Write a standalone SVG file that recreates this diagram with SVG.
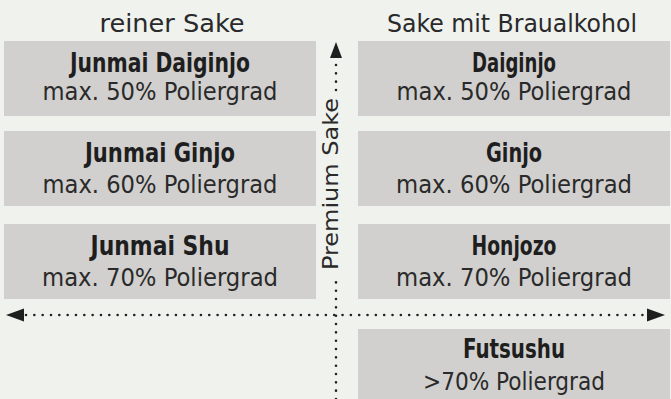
<svg xmlns="http://www.w3.org/2000/svg" width="671" height="399" viewBox="0 0 671 399">
<defs>
<style>
text{font-family:"Liberation Sans Narrow","DejaVu Sans Condensed","Liberation Sans",sans-serif;text-anchor:middle;fill:#2a2a2a}
.hd{font-size:25px}
.t{font-size:27px;font-weight:bold;fill:#1e1e1e}
.s{font-size:24px}
.box{fill:#d1d0ce}
.dot{fill:none;stroke:#222;stroke-width:2.6;stroke-linecap:round;stroke-dasharray:0 8.33}
.ah{fill:#1e1e1e}
</style>
</defs>
<rect width="671" height="399" fill="#f0f2ee"/>
<text class="hd" x="172" y="32" textLength="145" lengthAdjust="spacingAndGlyphs">reiner Sake</text>
<text class="hd" x="512" y="32" textLength="250" lengthAdjust="spacingAndGlyphs">Sake mit Braualkohol</text>
<g id="connectors">
<line class="dot" x1="26" y1="315" x2="646" y2="315"/>
<line class="dot" x1="336" y1="399" x2="336" y2="276"/>
<line class="dot" x1="336" y1="90" x2="336" y2="60"/>
<path class="ah" d="M6,315 L24,308.5 L24,321.5 Z"/>
<path class="ah" d="M665,315 L647,308.5 L647,321.5 Z"/>
<path class="ah" d="M336,42 L342,58 L330,58 Z"/>
<text class="hd" transform="translate(338,184) rotate(-90)" x="0" y="0" textLength="172" lengthAdjust="spacingAndGlyphs" style="font-size:22px">Premium Sake</text>
</g>
<g id="junmai-daiginjo">
<rect class="box" x="4" y="41" width="312" height="75"/>
<text class="t" x="160" y="72" textLength="180" lengthAdjust="spacingAndGlyphs">Junmai Daiginjo</text>
<text class="s" x="160" y="100" textLength="235" lengthAdjust="spacingAndGlyphs">max. 50% Poliergrad</text>
</g>
<g id="junmai-ginjo">
<rect class="box" x="4" y="131" width="312" height="75"/>
<text class="t" x="160" y="162" textLength="150" lengthAdjust="spacingAndGlyphs">Junmai Ginjo</text>
<text class="s" x="160" y="193" textLength="235" lengthAdjust="spacingAndGlyphs">max. 60% Poliergrad</text>
</g>
<g id="junmai-shu">
<rect class="box" x="4" y="224" width="312" height="75"/>
<text class="t" x="160" y="255" textLength="139" lengthAdjust="spacingAndGlyphs">Junmai Shu</text>
<text class="s" x="160" y="286" textLength="236" lengthAdjust="spacingAndGlyphs">max. 70% Poliergrad</text>
</g>
<g id="daiginjo">
<rect class="box" x="358" y="41" width="312" height="75"/>
<text class="t" x="514" y="72" textLength="84" lengthAdjust="spacingAndGlyphs">Daiginjo</text>
<text class="s" x="514" y="100" textLength="235" lengthAdjust="spacingAndGlyphs">max. 50% Poliergrad</text>
</g>
<g id="ginjo">
<rect class="box" x="358" y="131" width="312" height="75"/>
<text class="t" x="514" y="162" textLength="56" lengthAdjust="spacingAndGlyphs">Ginjo</text>
<text class="s" x="514" y="193" textLength="236" lengthAdjust="spacingAndGlyphs">max. 60% Poliergrad</text>
</g>
<g id="honjozo">
<rect class="box" x="358" y="224" width="312" height="75"/>
<text class="t" x="514" y="255" textLength="85" lengthAdjust="spacingAndGlyphs">Honjozo</text>
<text class="s" x="514" y="286" textLength="236" lengthAdjust="spacingAndGlyphs">max. 70% Poliergrad</text>
</g>
<g id="futsushu">
<rect class="box" x="358" y="329" width="312" height="75"/>
<text class="t" x="514" y="358" textLength="102" lengthAdjust="spacingAndGlyphs">Futsushu</text>
<text class="s" x="514" y="390" textLength="182" lengthAdjust="spacingAndGlyphs">&gt;70% Poliergrad</text>
</g>
</svg>
